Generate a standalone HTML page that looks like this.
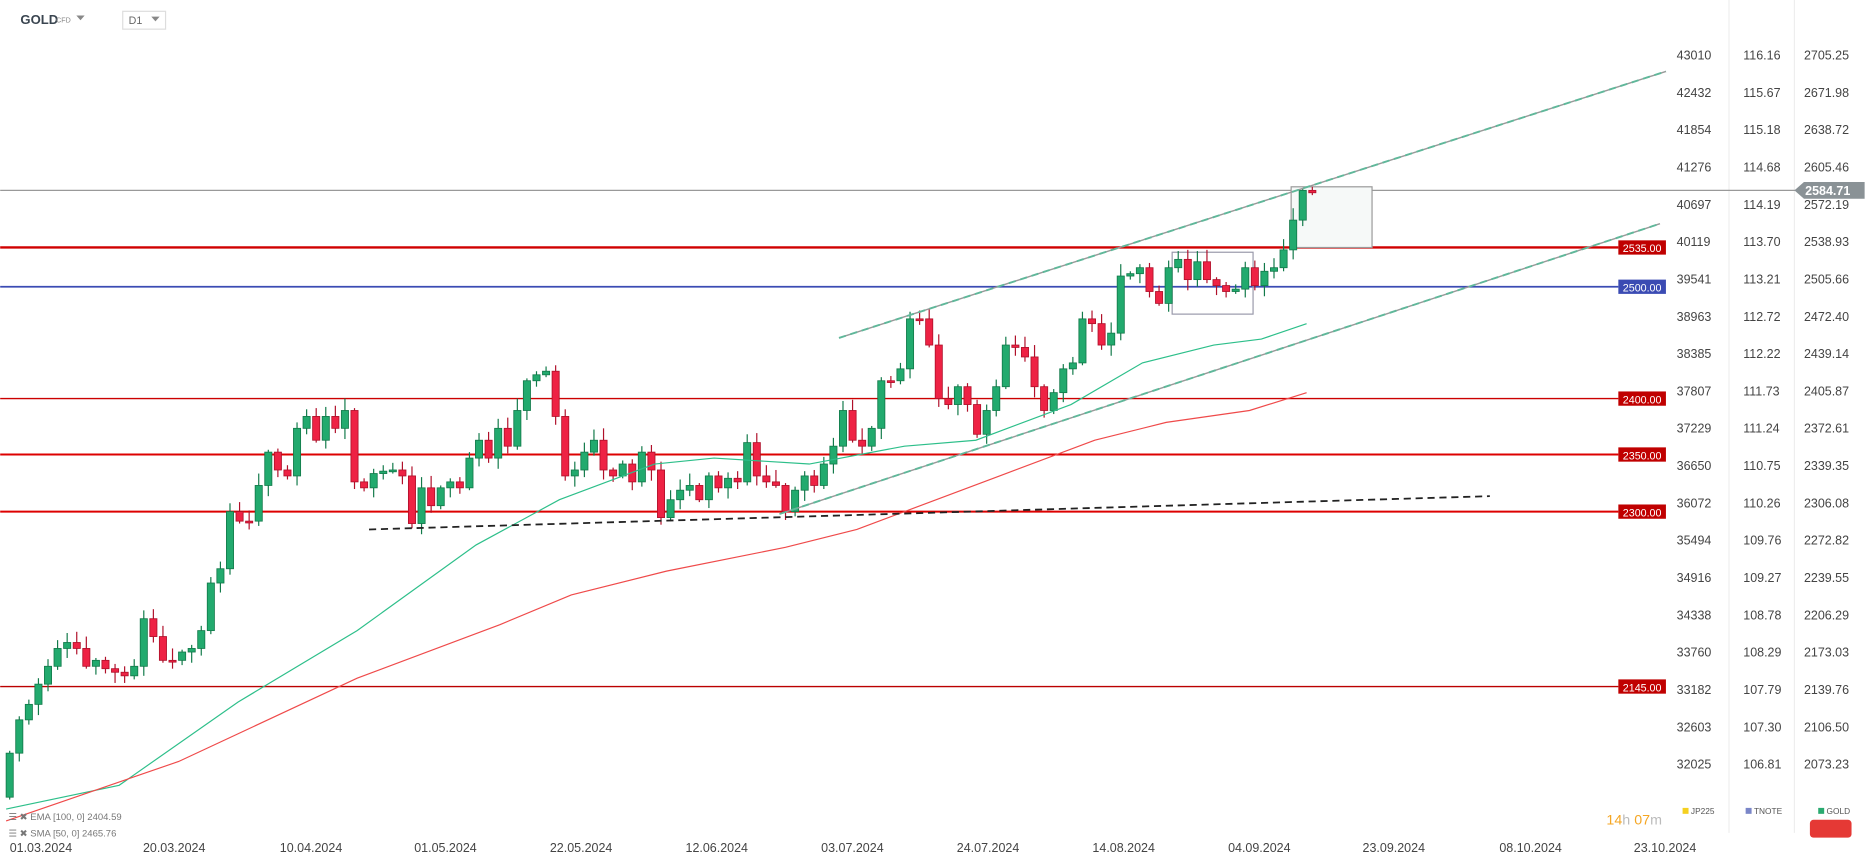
<!DOCTYPE html>
<html><head><meta charset="utf-8"><style>
html,body{margin:0;padding:0;background:#fff;overflow:hidden}
svg{display:block;font-family:"Liberation Sans",sans-serif}
</style></head><body>
<svg id="c" width="1866" height="865" viewBox="0 0 1568 727" xmlns="http://www.w3.org/2000/svg">
<rect width="1568" height="727" fill="#fff"/>
<line x1="1453" y1="0" x2="1453" y2="700" stroke="#eee"/>
<line x1="1508" y1="0" x2="1508" y2="700" stroke="#eee"/>
<text x="17" y="20" font-size="11" font-weight="bold" fill="#3a4550">GOLD</text>
<text x="47" y="19" font-size="6" fill="#888">CFD</text>
<path d="M64 13h7l-3.5 4z" fill="#888"/>
<rect x="103" y="9.5" width="36" height="15" fill="none" stroke="#ddd"/>
<text x="108" y="20" font-size="9" fill="#666">D1</text>
<path d="M127 14h7l-3.5 4z" fill="#888"/>
<g id="hl"></g>
<g id="ax" font-size="10.5" fill="#444"></g>
<rect x="985" y="212" width="68" height="52" fill="none" stroke="#99a"/>
<rect x="1085" y="157" width="68" height="51" fill="#f6f9f8" stroke="#999"/>
<g id="cd"></g>
<polyline fill="none" stroke="#2dbf8a" stroke-width="1" points="5,680 100,660 200,590 300,530 400,458 470,420 550,390 600,385 680,390 760,375 820,370 900,340 960,305 1020,290 1060,285 1098,272"/>
<polyline fill="none" stroke="#ef4a4a" stroke-width="1" points="5,690 150,640 300,570 420,525 480,500 560,480 660,460 720,445 760,430 840,400 920,370 980,355 1050,345 1098,330"/>
<line x1="705" y1="284" x2="1400" y2="60" stroke="#999" stroke-width="1.2"/>
<line x1="705" y1="284" x2="1400" y2="60" stroke="#5fb89a" stroke-width="1.6" stroke-dasharray="6,4"/>
<line x1="655" y1="432" x2="1395" y2="188" stroke="#999" stroke-width="1.2"/>
<line x1="655" y1="432" x2="1395" y2="188" stroke="#5fb89a" stroke-width="1.6" stroke-dasharray="6,4"/>
<line x1="310" y1="445" x2="1252" y2="417" stroke="#222" stroke-width="1.5" stroke-dasharray="6,4"/>
<text x="7" y="689" font-size="8" fill="#777">☰ ✖ EMA [100, 0] 2404.59</text>
<text x="7" y="703" font-size="8" fill="#777">☰ ✖ SMA [50, 0] 2465.76</text>
<text x="1350" y="693" font-size="12" fill="#f5a623">14<tspan fill="#bbb">h</tspan> 07<tspan fill="#bbb">m</tspan></text>
<rect x="1414" y="679" width="5" height="5" fill="#f5d020"/><text x="1421" y="684" font-size="7" fill="#555">JP225</text>
<rect x="1467" y="679" width="5" height="5" fill="#7a86c8"/><text x="1474" y="684" font-size="7" fill="#555">TNOTE</text>
<rect x="1528" y="679" width="5" height="5" fill="#2aaa70"/><text x="1535" y="684" font-size="7" fill="#555">GOLD</text>
<rect x="1521" y="689" width="35" height="15" rx="3" fill="#e53935"/>
</svg>
<script>
(function(){
var NS="http://www.w3.org/2000/svg";
function el(p,t,a,txt){var e=document.createElementNS(NS,t);for(var k in a)e.setAttribute(k,a[k]);if(txt!=null)e.textContent=txt;p.appendChild(e);return e;}
var hl=document.getElementById('hl'),ax=document.getElementById('ax'),cd=document.getElementById('cd');
el(hl,'line',{x1:0,y1:160,x2:1510,y2:160,stroke:'#999','stroke-width':1});
el(hl,'path',{d:'M1508 160l8-7h51v14h-51z',fill:'#8a9296'});
el(hl,'text',{x:1517,y:164,'font-size':10.5,fill:'#fff','font-weight':'bold'},'2584.71');
var lv=[[208,'#d00000',2,'2535.00'],[241,'#3b4bb3',1.5,'2500.00'],[335,'#c00',1.2,'2400.00'],[382,'#d00',1.6,'2350.00'],[430,'#d00',1.6,'2300.00'],[577,'#b00',1.2,'2145.00']];
lv.forEach(function(l){el(hl,'line',{x1:0,y1:l[0],x2:1360,y2:l[0],stroke:l[1],'stroke-width':l[2]});
el(hl,'rect',{x:1360,y:l[0]-6,width:40,height:12,fill:l[1]=='#3b4bb3'?'#3b4bb3':'#c00000'});
el(hl,'text',{x:1380,y:l[0]+4,'font-size':9,fill:'#fff','text-anchor':'middle'},l[3]);});
var a=["43010","42432","41854","41276","40697","40119","39541","38963","38385","37807","37229","36650","36072","35494","34916","34338","33760","33182","32603","32025"];
var b=["116.16","115.67","115.18","114.68","114.19","113.70","113.21","112.72","112.22","111.73","111.24","110.75","110.26","109.76","109.27","108.78","108.29","107.79","107.30","106.81"];
var c=["2705.25","2671.98","2638.72","2605.46","2572.19","2538.93","2505.66","2472.40","2439.14","2405.87","2372.61","2339.35","2306.08","2272.82","2239.55","2206.29","2173.03","2139.76","2106.50","2073.23"];
for(var i=0;i<20;i++){var y=50+i*31.37;
el(ax,'text',{x:1409,y:y},a[i]);el(ax,'text',{x:1465,y:y},b[i]);el(ax,'text',{x:1516,y:y},c[i]);}
var d=[["01.03.2024",8],["20.03.2024",120],["10.04.2024",235],["01.05.2024",348],["22.05.2024",462],["12.06.2024",576],["03.07.2024",690],["24.07.2024",804],["14.08.2024",918],["04.09.2024",1032],["23.09.2024",1145],["08.10.2024",1260],["23.10.2024",1373]];
d.forEach(function(q){el(ax,'text',{x:q[1],y:716,'font-size':10.5},q[0]);});
var cl=[633,605,592,575,560,545,540,545,560,555,562,565,568,560,520,535,555,555,548,545,530,490,478,430,438,438,408,380,395,400,360,350,370,350,360,345,405,410,398,396,395,400,440,410,425,410,405,410,385,370,385,360,375,345,320,315,312,350,400,395,380,370,395,400,390,405,380,395,435,420,412,408,420,400,410,402,405,372,400,405,408,430,412,400,408,390,375,345,370,375,360,320,320,310,268,268,290,335,340,325,340,365,345,325,290,292,300,325,345,330,310,305,268,272,290,280,232,230,225,245,255,225,218,235,220,235,240,245,243,225,240,228,225,210,185,160,162];
var op=670;
for(var i=0;i<cl.length;i++){var x=8+i*8.05,o=op,cc=cl[i];var up=cc<o;var col=up?'#22aa6e':'#ee2244',st=up?'#127a4a':'#b0102a';
var tp=Math.min(o,cc),bt=Math.max(o,cc);var w1=(i*37%9)+2,w2=(i*53%8)+2;
el(cd,'line',{x1:x,y1:tp-w1,x2:x,y2:bt+w2,stroke:st,'stroke-width':1});
el(cd,'rect',{x:x-3,y:tp,width:6,height:Math.max(bt-tp,1.5),fill:col,stroke:st,'stroke-width':0.7});
op=cc;}
})();
</script>
</body></html>
